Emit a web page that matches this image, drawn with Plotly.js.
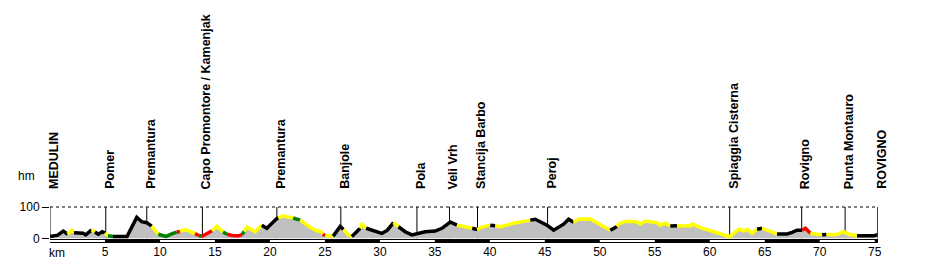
<!DOCTYPE html>
<html><head><meta charset="utf-8">
<script src="https://cdn.plot.ly/plotly-3.0.1.min.js"></script>
<style>html,body{margin:0;padding:0;background:#fff}#chart{width:927px;height:270px}</style>
</head><body><div id="chart"></div>
<script>
// distance along route (km)
const km = [0.00,0.70,1.21,1.61,1.97,2.18,3.00,3.25,3.79,4.09,4.39,4.76,5.00,5.28,5.73,7.01,7.12,7.89,8.34,8.80,
9.25,9.55,9.85,10.56,11.07,11.53,11.83,12.28,12.74,13.19,13.56,13.80,14.26,14.74,15.17,15.74,16.11,16.56,17.11,17.47,
17.65,17.90,18.66,19.26,19.72,20.63,20.77,21.23,22.11,22.75,23.66,24.20,24.57,24.84,25.02,25.75,26.21,26.39,26.69,27.12,
27.45,28.21,28.36,28.75,29.30,30.18,30.66,31.24,31.69,32.30,32.91,33.51,34.12,35.03,35.64,36.40,37.01,37.76,38.40,38.85,
39.31,40.04,40.49,40.95,42.16,43.68,44.13,45.20,45.80,46.71,47.16,47.62,48.07,49.14,49.59,50.20,50.96,51.56,51.71,52.32,
53.23,53.69,54.14,55.20,55.50,55.96,56.41,57.02,58.23,58.39,59.15,59.90,60.36,60.81,61.27,61.81,62.18,62.63,63.09,63.39,
63.85,64.30,64.76,65.36,65.81,66.12,67.03,67.49,67.94,68.39,68.70,69.15,70.22,70.61,71.43,72.19,72.64,73.40,74.91,75.25];
// elevation (m)
const elev = [6,10,23,13,26,18,16,11,27,20,13,21,17,8,6,6,14,67,53,50,
39,27,13,6,14,20,22,28,22,15,9,6,14,24,38,20,13,9,8,12,
22,36,21,42,32,63,65,71,65,58,35,25,22,14,8,7,30,38,28,11,
6,32,45,32,25,16,25,50,37,21,11,16,21,23,32,52,42,37,32,28,
36,42,40,37,48,58,61,42,26,45,61,51,61,62,53,42,26,38,46,54,
54,46,55,50,42,48,39,40,39,46,34,26,21,16,11,5,16,29,24,29,
16,29,32,24,21,14,14,19,26,26,32,16,11,12,11,21,13,8,8,12];
// road class of the segment starting at each point: b=black, y=yellow, g=green, r=red
const surface = ['b','b','b','y','y','b','b','b','y','b','b','b','y','g','b','b','b','b','b','b',
'y','y','g','g','g','r','y','y','y','r','g','r','r','y','y','g','r','r','r','g',
'y','y','y','b','b','b','y','y','g','y','y','y','y','r','y','b','b','b','y','y',
'b','y','y','b','b','b','b','y','b','b','b','b','b','b','b','b','y','y','b','y',
'y','b','y','y','y','b','b','b','b','b','b','y','y','y','y','y','b','y','y','y',
'y','y','y','y','y','y','b','y','y','y','y','y','y','y','y','y','y','y','y','y',
'y','b','y','y','y','b','b','b','b','r','r','y','b','y','y','y','y','b','b','b'];
const placeNames = ['MEDULIN','Pomer','Premantura','Capo Promontore / Kamenjak','Premantura','Banjole','Pola',
'Veli Vrh','Stancija Barbo','Peroj','Spiaggia Cisterna','Rovigno','Punta Montauro','ROVIGNO'];
const placeKm = [0.00,5.07,8.80,13.86,20.63,26.45,33.37,36.33,38.88,45.25,61.81,68.36,72.31,75.28];
const xTickVals = [5,10,15,20,25,30,35,40,45,50,55,60,65,70,75];
const yTickVals = [0,100];

const colorOf = {b:'#000000', y:'#ffff00', g:'#008000', r:'#ff0000'};
const xEnd = 75.3;
const FONT = 'Liberation Sans, Arial, sans-serif';

const traces = [{
  x: km, y: elev, type:'scatter', mode:'lines', fill:'tozeroy',
  fillcolor:'#c0c0c0', line:{width:0, color:'#c0c0c0'}, hoverinfo:'skip', showlegend:false
}];
let i = 0;
const n = km.length;
while (i < n - 1) {
  let j = i;
  while (j + 1 < n - 1 && surface[j + 1] === surface[i]) j++;
  traces.push({
    x: km.slice(i, j + 2), y: elev.slice(i, j + 2), type:'scatter', mode:'lines',
    line:{color: colorOf[surface[i]], width:3.5}, hoverinfo:'skip', showlegend:false
  });
  i = j + 1;
}

const shapes = [];
placeKm.forEach(k => shapes.push({type:'line', xref:'x', yref:'y', x0:k, x1:k, y0:0, y1:100,
  line:{color:'#000', width:1}, layer:'below'}));
shapes.push({type:'line', xref:'x', yref:'y', x0:0, x1:xEnd, y0:100, y1:100,
  line:{color:'#000', width:1, dash:'3px,3px'}});
// distance bar: white base, thin black top and bottom edges, black alternate 5 km segments
shapes.push({type:'rect', xref:'x', yref:'y', x0:0, x1:xEnd, y0:-2.24, y1:-15,
  fillcolor:'#ffffff', line:{width:0}});
shapes.push({type:'rect', xref:'x', yref:'y', x0:0, x1:xEnd, y0:-2.24, y1:-5.43,
  fillcolor:'#000000', line:{width:0}});
shapes.push({type:'rect', xref:'x', yref:'y', x0:0, x1:xEnd, y0:-11.82, y1:-15,
  fillcolor:'#000000', line:{width:0}});
const bounds = [0].concat(xTickVals, [xEnd]);
for (let b = 1; b < bounds.length - 1; b += 2) {
  shapes.push({type:'rect', xref:'x', yref:'y', x0:bounds[b], x1:bounds[b+1], y0:-2.24, y1:-15,
    fillcolor:'#000000', line:{width:0}});
}

const annotations = placeNames.map((name, k) => ({
  text:'<b>' + name + '</b>', x: placeKm[k], xshift:3.5, y:1.209, xref:'x', yref:'paper',
  textangle:-90, xanchor:'center', yanchor:'bottom', showarrow:false,
  font:{family:FONT, size:12.5, color:'#000'}
}));
annotations.push({text:'hm', xref:'paper', yref:'paper', x:-0.028, y:1.558, xanchor:'center', yanchor:'middle',
  showarrow:false, font:{family:FONT, size:12, color:'#000'}});
annotations.push({text:'km', xref:'x', yref:'paper', x:0.6, y:-0.233, xanchor:'center', yanchor:'middle',
  showarrow:false, font:{family:FONT, size:12, color:'#000'}});

const layout = {
  width:927, height:270,
  margin:{l:50, r:49, t:200, b:27, pad:0},
  paper_bgcolor:'#fff', plot_bgcolor:'#fff',
  showlegend:false,
  xaxis:{range:[0, xEnd], tickvals:xTickVals, ticktext:xTickVals.map(String), ticks:'', showgrid:false,
    zeroline:false, showline:false, fixedrange:true,
    tickfont:{family:FONT, size:12, color:'#000'}},
  yaxis:{range:[-15, 122.4], tickvals:yTickVals, ticktext:yTickVals.map(String), ticks:'outside', ticklen:7,
    tickcolor:'#000', tickwidth:1, showgrid:false, zeroline:false, showline:false, fixedrange:true,
    tickfont:{family:FONT, size:12, color:'#000'}},
  shapes: shapes,
  annotations: annotations
};
Plotly.newPlot('chart', traces, layout, {displayModeBar:false, staticPlot:true});
</script></body></html>
